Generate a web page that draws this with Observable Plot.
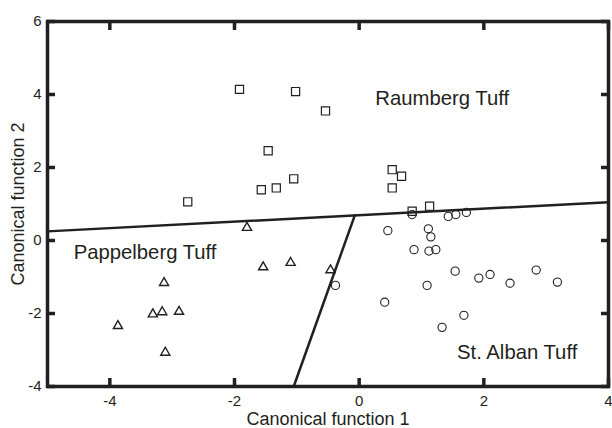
<!DOCTYPE html>
<html>
<head>
<meta charset="utf-8">
<script src="https://cdn.jsdelivr.net/npm/d3@7"></script>
<script src="https://cdn.jsdelivr.net/npm/@observablehq/plot@0.6"></script>
<style>
  html, body { margin: 0; padding: 0; background: #fff; }
  #chart svg { display: block; font-family: 'Liberation Sans', Arial, sans-serif; }
</style>
</head>
<body>
<div id="chart"></div>
<script>
// Raumberg Tuff (squares)
const raumbergX = [-1.92, -1.02, -0.54, -1.46, -1.05, -1.57, -1.33, -2.75, 0.53, 0.68, 0.53, 1.13, 0.85];
const raumbergY = [4.14, 4.08, 3.55, 2.46, 1.69, 1.39, 1.44, 1.06, 1.94, 1.76, 1.44, 0.94, 0.80];
// Pappelberg Tuff (triangles)
const pappelbergX = [-1.80, -1.54, -1.10, -0.46, -3.13, -3.31, -3.16, -2.89, -3.87, -3.11];
const pappelbergY = [0.35, -0.73, -0.61, -0.81, -1.16, -2.02, -1.96, -1.95, -2.34, -3.07];
// St. Alban Tuff (circles)
const albanX = [-0.38, 0.46, 0.85, 1.11, 1.15, 0.88, 1.12, 1.23, 1.43, 1.55, 1.72, 1.54, 1.92, 2.10, 2.42, 2.84, 3.18, 1.09, 0.41, 1.68, 1.33];
const albanY = [-1.23, 0.27, 0.71, 0.32, 0.10, -0.25, -0.29, -0.25, 0.66, 0.71, 0.77, -0.84, -1.03, -0.93, -1.17, -0.81, -1.14, -1.23, -1.69, -2.05, -2.38];
// Discriminant boundaries
const boundaryAX = [-5, 4];
const boundaryAY = [0.25, 1.05];
const boundaryBX = [-1.05, -0.07];
const boundaryBY = [-4, 0.69];
// Group labels
const groupNames = ["Raumberg Tuff", "Pappelberg Tuff", "St. Alban Tuff"];
const groupLabelX = [0.26, -4.58, 1.57];
const groupLabelY = [3.89, -0.34, -3.08];
// Axes
const xTicks = [-4, -2, 0, 2, 4];
const yTicks = [-4, -2, 0, 2, 4, 6];
const xTitle = "Canonical function 1";
const yTitle = "Canonical function 2";

const ink = "#231f20";
const toPts = (xs, ys) => xs.map((x, i) => ({x, y: ys[i]}));
const fmt = d => String(d);
const blank = () => "";
const tickLen = 8;

const chart = Plot.plot({
  width: 612,
  height: 428,
  marginLeft: 47,
  marginRight: 4,
  marginTop: 21,
  marginBottom: 42,
  x: {domain: [-5, 4]},
  y: {domain: [-4, 6]},
  marks: [
    // frame and inward tick marks on all four sides
    Plot.frame({stroke: ink, strokeWidth: 3.5}),
    Plot.axisX({anchor: "bottom", ticks: xTicks, tickSize: tickLen, dy: -tickLen, tickFormat: blank, stroke: ink, strokeWidth: 3.5, label: null}),
    Plot.axisX({anchor: "top", ticks: xTicks, tickSize: tickLen, dy: tickLen, tickFormat: blank, stroke: ink, strokeWidth: 3.5, label: null}),
    Plot.axisY({anchor: "left", ticks: yTicks, tickSize: tickLen, dx: tickLen, tickFormat: blank, stroke: ink, strokeWidth: 3.5, label: null}),
    Plot.axisY({anchor: "right", ticks: yTicks, tickSize: tickLen, dx: -tickLen, tickFormat: blank, stroke: ink, strokeWidth: 3.5, label: null}),
    Plot.axisX({anchor: "bottom", ticks: xTicks, tickSize: 0, tickPadding: 9, tickFormat: fmt, fill: ink, fontSize: 15, label: null}),
    Plot.axisY({anchor: "left", ticks: yTicks, tickSize: 0, tickPadding: 6, tickFormat: fmt, fill: ink, fontSize: 15, label: null}),
    // boundaries
    Plot.line(toPts(boundaryAX, boundaryAY), {x: "x", y: "y", stroke: ink, strokeWidth: 2.5}),
    Plot.line(toPts(boundaryBX, boundaryBY), {x: "x", y: "y", stroke: ink, strokeWidth: 2.5}),
    // samples
    Plot.dot(toPts(raumbergX, raumbergY), {x: "x", y: "y", symbol: "square", r: 4.6, stroke: ink, strokeWidth: 1.2, fill: "none"}),
    Plot.dot(toPts(pappelbergX, pappelbergY), {x: "x", y: "y", symbol: "triangle", r: 3.4, stroke: ink, strokeWidth: 1.4, fill: "none"}),
    Plot.dot(toPts(albanX, albanY), {x: "x", y: "y", symbol: "circle", r: 4.1, stroke: ink, strokeWidth: 1.1, fill: "none"}),
    // labels
    Plot.text(groupNames, {x: (d, i) => groupLabelX[i], y: (d, i) => groupLabelY[i], text: d => d, textAnchor: "start", fontSize: 20.3, fill: ink}),
    Plot.text([xTitle], {frameAnchor: "bottom", dy: 38, text: d => d, fontSize: 18, fill: ink}),
    Plot.text([yTitle], {frameAnchor: "left", textAnchor: "middle", dx: -29, rotate: -90, text: d => d, fontSize: 18, fill: ink})
  ]
});
document.getElementById("chart").appendChild(chart);
</script>
</body>
</html>
